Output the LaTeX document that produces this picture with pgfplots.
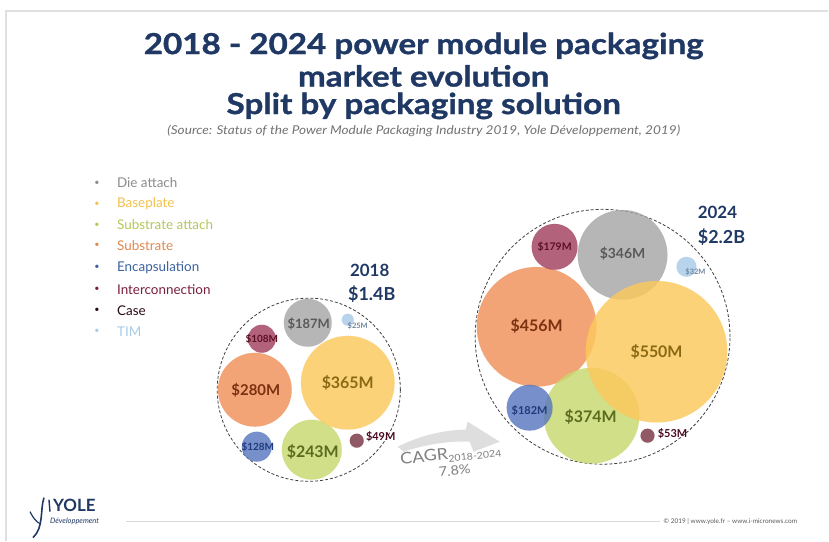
\documentclass[border=0pt]{standalone}
\usepackage{fontspec}
\setmainfont{Lato}
\newfontfamily\titlefont{Lato}[FakeStretch=1.15, FakeBold=1.1]
\newfontfamily\widefont{Lato}[FakeStretch=1.12]
\usepackage{pgfplots}
\usepackage{pgfplotstable}
\pgfplotsset{compat=1.18}
\usetikzlibrary{arrows.meta}

\definecolor{navy}{HTML}{1F3864}
\definecolor{cDie}{HTML}{A6A6A6}\definecolor{tDie}{HTML}{595959}\definecolor{gDie}{HTML}{8C8C8C}
\definecolor{cBase}{HTML}{FCC95C}\definecolor{tBase}{HTML}{8B6914}\definecolor{gBase}{HTML}{F2C14E}
\definecolor{cSubA}{HTML}{C8D96E}\definecolor{tSubA}{HTML}{5B6B1E}\definecolor{gSubA}{HTML}{B3C85A}
\definecolor{cSub}{HTML}{F0915A}\definecolor{tSub}{HTML}{7B3010}\definecolor{gSub}{HTML}{E08850}
\definecolor{cEnc}{HTML}{5A78C0}\definecolor{tEnc}{HTML}{1F3A7A}\definecolor{gEnc}{HTML}{3D62A0}
\definecolor{cInt}{HTML}{A3405F}\definecolor{tInt}{HTML}{5A0F25}\definecolor{gInt}{HTML}{7A1F3D}
\definecolor{cCase}{HTML}{7A3545}\definecolor{tCase}{HTML}{4A0A1E}\definecolor{gCase}{HTML}{2A0A15}
\definecolor{cTim}{HTML}{A9CBEA}\definecolor{tTim}{HTML}{6F869E}\definecolor{gTim}{HTML}{A8CCE6}

% x y r : bubble centre and radius (px); lx ly : label position; fs : label size
\pgfplotstableread{
x y r lx ly fs label
309 390 92 0 0 1 {}
603 337 128 0 0 1 {}
}\totals
\pgfplotstableread{
x y r lx ly fs label
308 323 24 309 324 13 {\$187M}
623 255 45 623 254 14 {\$346M}
}\dieattach
\pgfplotstableread{
x y r lx ly fs label
348 383 47 348 383 16 {\$365M}
657 352 71 657 352 16 {\$550M}
}\baseplate
\pgfplotstableread{
x y r lx ly fs label
312 450 30 313 452 16 {\$243M}
592 416 48 591 417 16 {\$374M}
}\subattach
\pgfplotstableread{
x y r lx ly fs label
255 390 37 256 390 15 {\$280M}
537 327 60 537 326 16 {\$456M}
}\substrate
\pgfplotstableread{
x y r lx ly fs label
257 447 15 258 447 10 {\$128M}
530 408 23 530 411 11 {\$182M}
}\encaps
\pgfplotstableread{
x y r lx ly fs label
262 339 14 262 339 10 {\$108M}
555 247 23 555 247 10.5 {\$179M}
}\interconn
\pgfplotstableread{
x y r lx ly fs label
357 441 7 381 437 11 {\$49M}
648 436 7 673 434 11 {\$53M}
}\casedata
\pgfplotstableread{
x y r lx ly fs label
348 320 6 358 326 7.5 {\$25M}
687 267 10 696 272 7.5 {\$32M}
}\timdata

\pgfplotsset{
  bubble/.style={scatter, only marks, mark=*,
    scatter/use mapped color={draw=#1, line width=0.2pt, fill=#1, fill opacity=0.82, draw opacity=0.5},
    visualization depends on={\thisrow{r}\as\rad},
    scatter/@pre marker code/.append style={/tikz/mark size=\rad}},
  lab/.style={only marks, mark=none,
    nodes near coords, point meta=explicit symbolic,
    visualization depends on={\thisrow{fs}\as\fs},
    every node near coord/.append style={anchor=center, inner sep=0pt, text=#1,
      font=\bfseries\fontsize{\fs}{\fs}\selectfont}},
}
\tikzset{legtext/.style={anchor=west, text=#1, font=\fontsize{13.5}{13.5}\selectfont, inner sep=0pt},
  legdot/.style={anchor=center, text=#1, font=\fontsize{9}{9}\selectfont}}

\begin{document}
\begin{tikzpicture}
\begin{axis}[width=829bp, height=541bp, scale only axis,
  xmin=0, xmax=829, ymin=0, ymax=541, y dir=reverse,
  hide axis, clip=false]
\fill[white] (rel axis cs:0,0) rectangle (rel axis cs:1,1);
\draw[black!12, line width=1.2pt] (axis cs:6,541) -- (axis cs:6,11) -- (axis cs:829,11);

% title
\node[font=\titlefont\bfseries\fontsize{29}{29}\selectfont, text=navy] at (axis cs:424,46) {2018 - 2024 power module packaging};
\node[font=\titlefont\bfseries\fontsize{29}{29}\selectfont, text=navy] at (axis cs:424,76) {market evolution};
\node[font=\titlefont\bfseries\fontsize{29}{29}\selectfont, text=navy] at (axis cs:424,106) {Split by packaging solution};
\node[font=\widefont\itshape\fontsize{12.2}{12.2}\selectfont, text=black!55] at (axis cs:424,131) {(Source: Status of the Power Module Packaging Industry 2019, Yole Développement, 2019)};

% legend
\node[legdot=gDie] at (axis cs:97,183) {•};  \node[legtext=gDie] at (axis cs:117,183) {Die attach};
\node[legdot=gBase] at (axis cs:97,204) {•}; \node[legtext=gBase] at (axis cs:117,204) {Baseplate};
\node[legdot=gSubA] at (axis cs:97,225) {•}; \node[legtext=gSubA] at (axis cs:117,225) {Substrate attach};
\node[legdot=gSub] at (axis cs:97,246) {•};  \node[legtext=gSub] at (axis cs:117,246) {Substrate};
\node[legdot=gEnc] at (axis cs:97,268) {•};  \node[legtext=gEnc] at (axis cs:117,268) {Encapsulation};
\node[legdot=gInt] at (axis cs:97,290) {•};  \node[legtext=gInt] at (axis cs:117,290) {Interconnection};
\node[legdot=gCase] at (axis cs:97,311) {•}; \node[legtext=gCase] at (axis cs:117,311) {Case};
\node[legdot=gTim] at (axis cs:97,332) {•};  \node[legtext=gTim] at (axis cs:117,332) {TIM};

% totals (dashed outline)
\addplot[scatter, only marks, mark=o,
    scatter/use mapped color={draw=black!75, densely dashed, line width=0.8pt},
    visualization depends on={\thisrow{r}\as\rad},
    scatter/@pre marker code/.append style={/tikz/mark size=\rad}]
  table[x=x,y=y]{\totals};

% bubbles
\addplot[bubble=cDie] table[x=x,y=y]{\dieattach};
\addplot[bubble=cSub] table[x=x,y=y]{\substrate};
\addplot[bubble=cSubA] table[x=x,y=y]{\subattach};
\addplot[bubble=cBase] table[x=x,y=y]{\baseplate};
\addplot[bubble=cEnc] table[x=x,y=y]{\encaps};
\addplot[bubble=cInt] table[x=x,y=y]{\interconn};
\addplot[bubble=cCase] table[x=x,y=y]{\casedata};
\addplot[bubble=cTim] table[x=x,y=y]{\timdata};

% labels
\addplot[lab=tDie] table[x=lx,y=ly,meta=label]{\dieattach};
\addplot[lab=tSub] table[x=lx,y=ly,meta=label]{\substrate};
\addplot[lab=tSubA] table[x=lx,y=ly,meta=label]{\subattach};
\addplot[lab=tBase] table[x=lx,y=ly,meta=label]{\baseplate};
\addplot[lab=tEnc] table[x=lx,y=ly,meta=label]{\encaps};
\addplot[lab=tInt] table[x=lx,y=ly,meta=label]{\interconn};
\addplot[lab=tCase] table[x=lx,y=ly,meta=label]{\casedata};
\addplot[lab=tTim] table[x=lx,y=ly,meta=label]{\timdata};

% year totals
\node[font=\bfseries\fontsize{17}{17}\selectfont, text=navy] at (axis cs:370,271) {2018};
\node[font=\bfseries\fontsize{18}{18}\selectfont, text=navy] at (axis cs:372,294) {\$1.4B};
\node[font=\bfseries\fontsize{17}{17}\selectfont, text=navy] at (axis cs:718,213) {2024};
\node[font=\bfseries\fontsize{18}{18}\selectfont, text=navy] at (axis cs:722,237) {\$2.2B};

% CAGR arrow
\fill[black!13] (axis cs:398,447) .. controls (axis cs:420,436) and (axis cs:445,430) .. (axis cs:466,430)
  -- (axis cs:468,422) -- (axis cs:500,442) -- (axis cs:474,452) -- (axis cs:470,442)
  .. controls (axis cs:448,441) and (axis cs:425,445) .. (axis cs:404,452) -- cycle;
\node[rotate=6, text=black!50, font=\widefont\fontsize{16}{16}\selectfont] at (axis cs:451,455)
  {CAGR\raisebox{-0.35ex}{\fontsize{9.5}{9.5}\selectfont 2018-2024}};
\node[rotate=6, text=black!50, font=\widefont\fontsize{13}{13}\selectfont] at (axis cs:455,471) {7.8\%};

% footer
\draw[navy, line width=1.6pt] (axis cs:44,498) .. controls (axis cs:40,510) and (axis cs:44,528) .. (axis cs:33,538);
\draw[navy, line width=1.2pt] (axis cs:30,512) .. controls (axis cs:33,518) and (axis cs:36,522) .. (axis cs:40,524);
\draw[navy, line width=1.4pt] (axis cs:49,500) -- (axis cs:50,512);
\node[font=\bfseries\fontsize{17}{17}\selectfont, text=navy, anchor=west, inner sep=0pt] at (axis cs:53,506) {YOLE};
\node[font=\itshape\fontsize{7.5}{7.5}\selectfont, text=navy, anchor=west, inner sep=0pt] at (axis cs:50,522) {Développement};
\draw[black!15, line width=0.6pt] (axis cs:126,522) -- (axis cs:660,522);
\node[font=\fontsize{6.5}{6.5}\selectfont, text=black!65, anchor=west, inner sep=0pt] at (axis cs:664,522) {© 2019 | www.yole.fr – www.i-micronews.com};
\end{axis}
\end{tikzpicture}
\end{document}
